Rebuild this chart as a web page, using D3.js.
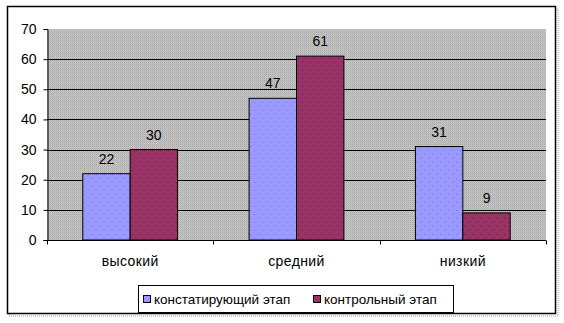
<!DOCTYPE html>
<html>
<head>
<meta charset="utf-8">
<script src="https://cdn.jsdelivr.net/npm/d3@7"></script>
<style>
  body { margin: 0; background: #fff; }
  text { font-family: Arial, "Liberation Sans", sans-serif; fill: #000; }
</style>
</head>
<body>
<script>
var categories = ["высокий", "средний", "низкий"];
var seriesNames = ["констатирующий этап", "контрольный этап"];
var stage1 = [22, 47, 31];
var stage2 = [30, 61, 9];
var yTicks = [0, 10, 20, 30, 40, 50, 60, 70];
var colors = ["#9999ff", "#993366"];

var width = 564, height = 323;
var plotLeft = 47, plotRight = 546, plotTop = 29, plotBottom = 240;

var svg = d3.select("body").append("svg")
  .attr("width", width)
  .attr("height", height);

var defs = svg.append("defs");

// dotted gray background like excel
var bg = defs.append("pattern")
  .attr("id", "bgpat")
  .attr("patternUnits", "userSpaceOnUse")
  .attr("width", 2).attr("height", 2);
bg.append("rect").attr("width", 2).attr("height", 2).attr("fill", "#cacaca");
bg.append("rect").attr("width", 1).attr("height", 1).attr("fill", "#a4a4a4");
bg.append("rect").attr("x", 1).attr("y", 1).attr("width", 1).attr("height", 1).attr("fill", "#b4b4b4");

// dotted bar fills
colors.forEach(function (c, i) {
  var p = defs.append("pattern")
    .attr("id", "bar" + i)
    .attr("patternUnits", "userSpaceOnUse")
    .attr("width", 8).attr("height", 8);
  p.append("rect").attr("width", 8).attr("height", 8).attr("fill", c);
  p.append("rect").attr("x", 1).attr("y", 2).attr("width", 1).attr("height", 1)
    .attr("fill", i == 0 ? "#7070d8" : "#5a1c40");
  p.append("rect").attr("x", 5).attr("y", 6).attr("width", 1).attr("height", 1)
    .attr("fill", i == 0 ? "#7070d8" : "#5a1c40");
});

// outer frame with shadow
svg.append("rect")
  .attr("x", 9).attr("y", 9).attr("width", 549).attr("height", 307)
  .attr("fill", "none").attr("stroke", "#999").attr("stroke-dasharray", "1,1");
svg.append("rect")
  .attr("x", 7.5).attr("y", 6.5).attr("width", 548).attr("height", 307)
  .attr("fill", "#fff").attr("stroke", "#000").attr("stroke-width", 1.5);

var x0 = d3.scaleBand()
  .domain(categories)
  .range([plotLeft, plotRight])
  .paddingInner(0.43)
  .paddingOuter(0.215);

var x1 = d3.scaleBand()
  .domain([0, 1])
  .range([0, x0.bandwidth()]);

var y = d3.scaleLinear()
  .domain([0, 70])
  .range([plotBottom, plotTop]);

// plot area
svg.append("rect")
  .attr("x", plotLeft).attr("y", plotTop)
  .attr("width", plotRight - plotLeft).attr("height", plotBottom - plotTop)
  .attr("fill", "url(#bgpat)");

// gridlines
svg.append("g")
  .selectAll("line")
  .data(yTicks.filter(function (d) { return d > 0 && d < 70; }))
  .enter()
  .append("line")
  .attr("x1", plotLeft).attr("x2", plotRight)
  .attr("y1", function (d) { return Math.round(y(d)) + 0.5; })
  .attr("y2", function (d) { return Math.round(y(d)) + 0.5; })
  .attr("stroke", "#000");

// bars
var groups = svg.append("g")
  .selectAll("g")
  .data(categories)
  .enter()
  .append("g")
  .attr("transform", function (d) { return "translate(" + x0(d) + ",0)"; });

var allSeries = [stage1, stage2];

groups.selectAll("rect")
  .data(function (d, i) {
    return allSeries.map(function (s, k) { return { k: k, v: s[i] }; });
  })
  .enter()
  .append("rect")
  .attr("x", function (d) { return x1(d.k); })
  .attr("y", function (d) { return y(d.v); })
  .attr("width", x1.bandwidth())
  .attr("height", function (d) { return plotBottom - y(d.v); })
  .attr("fill", function (d) { return "url(#bar" + d.k + ")"; })
  .attr("stroke", "#000")
  .attr("stroke-width", 1);

groups.selectAll("text")
  .data(function (d, i) {
    return allSeries.map(function (s, k) { return { k: k, v: s[i] }; });
  })
  .enter()
  .append("text")
  .attr("x", function (d) { return x1(d.k) + x1.bandwidth() / 2; })
  .attr("y", function (d) { return y(d.v) - 10; })
  .attr("text-anchor", "middle")
  .style("font-size", "14px")
  .text(function (d) { return d.v; });

// y axis
var yAxis = d3.axisLeft(y).tickValues(yTicks).tickSize(4).tickPadding(7);
var ya = svg.append("g")
  .attr("transform", "translate(" + (plotLeft + 0.5) + ",0)")
  .call(yAxis);
ya.selectAll("text").style("font-size", "14px").attr("font-family", null);
ya.selectAll("line").attr("stroke", "#000");
ya.select(".domain").attr("stroke", "#000");

// x axis
var xa = svg.append("g")
  .attr("transform", "translate(0," + (plotBottom + 0.5) + ")");
xa.append("line")
  .attr("x1", plotLeft).attr("x2", plotRight)
  .attr("stroke", "#000");
var step = (plotRight - plotLeft) / categories.length;
xa.selectAll(".tk")
  .data(d3.range(categories.length + 1))
  .enter()
  .append("line")
  .attr("class", "tk")
  .attr("x1", function (d) { return Math.round(plotLeft + d * step) + 0.5; })
  .attr("x2", function (d) { return Math.round(plotLeft + d * step) + 0.5; })
  .attr("y1", 0).attr("y2", 4)
  .attr("stroke", "#000");
xa.selectAll(".lbl")
  .data(categories)
  .enter()
  .append("text")
  .attr("class", "lbl")
  .attr("x", function (d) { return x0(d) + x0.bandwidth() / 2; })
  .attr("y", 25)
  .attr("text-anchor", "middle")
  .style("font-size", "14px")
  .style("letter-spacing", "0.4px")
  .text(function (d) { return d; });

// legend
var legend = svg.append("g");
legend.append("rect")
  .attr("x", 138.5).attr("y", 285.5).attr("width", 315).attr("height", 27)
  .attr("fill", "#fff").attr("stroke", "#000");
var legX = [143, 313];
seriesNames.forEach(function (name, i) {
  legend.append("rect")
    .attr("x", legX[i] + 0.5).attr("y", 295.5).attr("width", 7).attr("height", 7)
    .attr("fill", colors[i]).attr("stroke", "#000");
  legend.append("text")
    .attr("x", legX[i] + 11).attr("y", 304)
    .style("font-size", "13.5px")
    .text(name);
});
</script>
</body>
</html>
